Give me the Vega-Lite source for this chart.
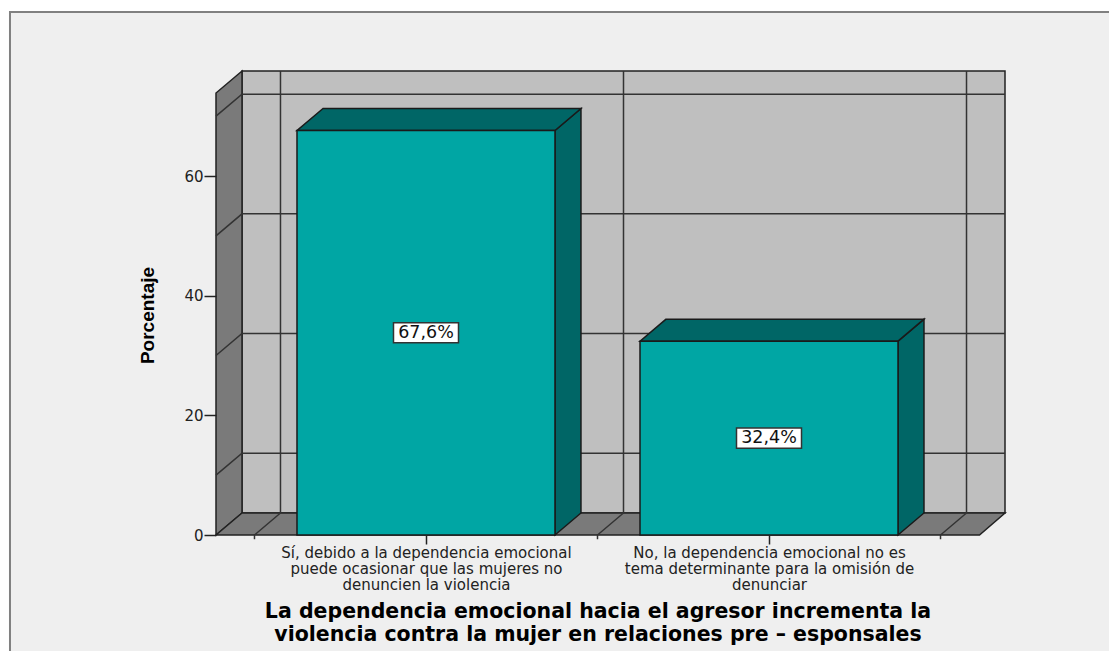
{
  "$schema": "https://vega.github.io/schema/vega-lite/v6.json",
  "width": 789,
  "height": 464,
  "autosize": {"type": "none"},
  "padding": {"left": 216, "top": 71, "right": 104, "bottom": 116},
  "background": "#ffffff",
  "view": {"stroke": null},
  "config": {"axis": {"grid": false}},
  "datasets": {
    "bars": [
      {"respuesta": "Sí", "pos": 1, "pct": 67.6, "mid": 33.8, "label": "67,6%"},
      {"respuesta": "No", "pos": 2, "pct": 32.4, "mid": 16.2, "label": "32,4%"}
    ],
    "frame": [{"x": -0.2128, "x2": 3.05, "y": 87.4, "y2": -30}],
    "wall": [{"x": 0.4636, "x2": 2.688, "y": 3.677, "y2": 77.55}],
    "sides": [
      {"face": "left", "x": 0.3878, "y": 0, "y2": 73.87},
      {"face": "left", "x": 0.4636, "y": 3.677, "y2": 77.55}
    ],
    "floor": [
      {"y": 0, "x": 0.3878, "x2": 2.6137},
      {"y": 3.677, "x": 0.4636, "x2": 2.688}
    ],
    "lines": [
      {"g": "h10", "x": 0.3878, "y": 10},
      {"g": "h10", "x": 0.4636, "y": 13.677},
      {"g": "h10", "x": 2.688, "y": 13.677},
      {"g": "h30", "x": 0.3878, "y": 30},
      {"g": "h30", "x": 0.4636, "y": 33.677},
      {"g": "h30", "x": 2.688, "y": 33.677},
      {"g": "h50", "x": 0.3878, "y": 50},
      {"g": "h50", "x": 0.4636, "y": 53.677},
      {"g": "h50", "x": 2.688, "y": 53.677},
      {"g": "h70", "x": 0.3878, "y": 70},
      {"g": "h70", "x": 0.4636, "y": 73.677},
      {"g": "h70", "x": 2.688, "y": 73.677},
      {"g": "v1", "x": 0.5, "y": -0.7},
      {"g": "v1", "x": 0.5, "y": 0},
      {"g": "v1", "x": 0.5758, "y": 3.677},
      {"g": "v1", "x": 0.5758, "y": 77.55},
      {"g": "v2", "x": 1.5, "y": -0.7},
      {"g": "v2", "x": 1.5, "y": 0},
      {"g": "v2", "x": 1.5758, "y": 3.677},
      {"g": "v2", "x": 1.5758, "y": 77.55},
      {"g": "v3", "x": 2.5, "y": -0.7},
      {"g": "v3", "x": 2.5, "y": 0},
      {"g": "v3", "x": 2.5758, "y": 3.677},
      {"g": "v3", "x": 2.5758, "y": 77.55}
    ],
    "barSides": [
      {"b": "a", "x": 1.376, "y": 0, "y2": 67.6},
      {"b": "a", "x": 1.4518, "y": 3.677, "y2": 71.277},
      {"b": "b", "x": 2.376, "y": 0, "y2": 32.4},
      {"b": "b", "x": 2.4518, "y": 3.677, "y2": 36.077}
    ],
    "barTops": [
      {"b": "a", "y": 67.6, "x": 0.624, "x2": 1.376},
      {"b": "a", "y": 71.277, "x": 0.6998, "x2": 1.4518},
      {"b": "b", "y": 32.4, "x": 1.624, "x2": 2.376},
      {"b": "b", "y": 36.077, "x": 1.6998, "x2": 2.4518}
    ]
  },
  "encoding": {
    "x": {
      "field": "x", "type": "quantitative",
      "scale": {"domain": [0.3878, 2.688], "nice": false, "zero": false, "padding": 0},
      "axis": {
        "values": [1, 2],
        "zindex": 2,
        "domain": false,
        "tickSize": 9,
        "tickColor": "#222222",
        "tickWidth": 1.5,
        "labelExpr": "datum.value == 1 ? ['Sí, debido a la dependencia emocional','puede ocasionar que las mujeres no','denuncien la violencia'] : ['No, la dependencia emocional no es','tema determinante para la omisión de','denunciar']",
        "labelFont": "DejaVu Sans",
        "labelFontSize": 15,
        "labelLineHeight": 16,
        "labelColor": "#222222",
        "labelPadding": 1,
        "labelOverlap": false,
        "labelBound": false,
        "labelFlush": false,
        "labelLimit": 500,
        "title": ["La dependencia emocional hacia el agresor incrementa la", "violencia contra la mujer en relaciones pre – esponsales"],
        "titleFont": "DejaVu Sans",
        "titleFontWeight": "bold",
        "titleFontSize": 20.5,
        "titleLineHeight": 23,
        "titleColor": "#000000",
        "titleX": 381.5,
        "titleY": 66,
        "titleLimit": 900
      }
    },
    "y": {
      "field": "y", "type": "quantitative",
      "scale": {"domain": [0, 77.55], "nice": false, "zero": false},
      "axis": {
        "values": [0, 20, 40, 60],
        "zindex": 2,
        "domain": false,
        "tickSize": 12,
        "tickColor": "#222222",
        "tickWidth": 1.5,
        "labelFont": "DejaVu Sans",
        "labelFontSize": 15,
        "labelColor": "#222222",
        "labelPadding": 1,
        "title": "Porcentaje",
        "titleFont": "Liberation Sans",
        "titleFontWeight": "bold",
        "titleFontSize": 19,
        "titleColor": "#000000",
        "titleX": -59,
        "titleY": 244
      }
    }
  },
  "layer": [
    {
      "data": {"name": "frame"},
      "mark": {"type": "rect", "fill": "#efefef", "stroke": "#808080", "strokeWidth": 2},
      "encoding": {"x2": {"field": "x2"}, "y2": {"field": "y2"}}
    },
    {
      "data": {"name": "wall"},
      "mark": {"type": "rect", "fill": "#bfbfbf", "stroke": "#222222", "strokeWidth": 1.5},
      "encoding": {"x2": {"field": "x2"}, "y2": {"field": "y2"}}
    },
    {
      "data": {"name": "sides"},
      "mark": {"type": "area", "fill": "#7a7a7a", "stroke": "#222222", "strokeWidth": 1.5, "line": false},
      "encoding": {"y2": {"field": "y2"}, "detail": {"field": "face"}}
    },
    {
      "data": {"name": "floor"},
      "mark": {"type": "area", "orient": "horizontal", "fill": "#7a7a7a", "stroke": "#222222", "strokeWidth": 1.5},
      "encoding": {"x2": {"field": "x2"}}
    },
    {
      "data": {"name": "lines"},
      "mark": {"type": "line", "color": "#333333", "strokeWidth": 1.5, "clip": false},
      "encoding": {"detail": {"field": "g"}}
    },
    {
      "data": {"name": "barSides"},
      "mark": {"type": "area", "fill": "#006666", "stroke": "#1a1a1a", "strokeWidth": 1.5},
      "encoding": {"y2": {"field": "y2"}, "detail": {"field": "b"}}
    },
    {
      "data": {"name": "barTops"},
      "mark": {"type": "area", "orient": "horizontal", "fill": "#006666", "stroke": "#1a1a1a", "strokeWidth": 1.5},
      "encoding": {"x2": {"field": "x2"}, "detail": {"field": "b"}}
    },
    {
      "data": {"name": "bars"},
      "mark": {"type": "bar", "size": 258, "fill": "#00a6a4", "stroke": "#1a1a1a", "strokeWidth": 1.5},
      "encoding": {"x": {"field": "pos", "type": "quantitative"}, "y": {"field": "pct", "type": "quantitative"}}
    },
    {
      "data": {"name": "bars"},
      "mark": {"type": "point", "shape": "M-1 -0.31H1V0.31H-1Z", "size": 4225, "filled": true, "fill": "#ffffff", "stroke": "#333333", "strokeWidth": 1.5, "opacity": 1},
      "encoding": {"x": {"field": "pos", "type": "quantitative"}, "y": {"field": "mid", "type": "quantitative"}}
    },
    {
      "data": {"name": "bars"},
      "mark": {"type": "text", "font": "DejaVu Sans", "fontSize": 17.5, "color": "#111111", "align": "center", "baseline": "middle"},
      "encoding": {"x": {"field": "pos", "type": "quantitative"}, "y": {"field": "mid", "type": "quantitative"}, "text": {"field": "label"}}
    }
  ]
}
